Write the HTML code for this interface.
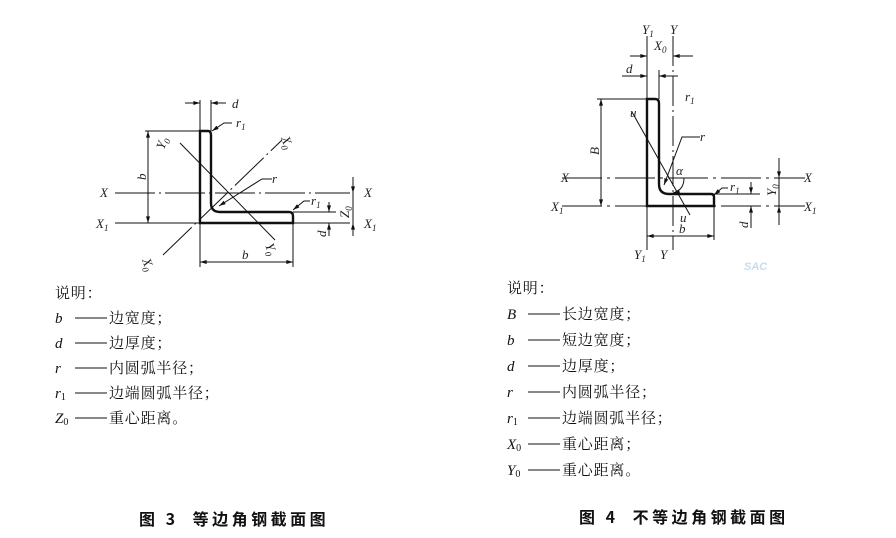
<!DOCTYPE html>
<html><head><meta charset="utf-8"><style>
html,body{margin:0;padding:0;background:#fff;}
svg{display:block}
.v{font-family:"Liberation Serif",serif;font-style:italic;font-size:13px;fill:#222}
.s{font-size:9px}
.t{font-family:"Liberation Serif",serif;font-size:15px;fill:#111}
.z{font-family:"Noto Serif CJK SC","Noto Sans CJK SC",serif;font-size:15px;letter-spacing:0.8px;fill:#111}
.c{font-family:"Noto Sans CJK SC",sans-serif;font-size:16px;font-weight:bold;fill:#111;letter-spacing:3.5px}
</style></head><body>
<svg width="896" height="538" viewBox="0 0 896 538" xmlns="http://www.w3.org/2000/svg">
<defs>
<marker id="a" viewBox="0 0 10 6" refX="10" refY="3" markerWidth="8" markerHeight="4" orient="auto-start-reverse"><path d="M0,0L10,3L0,6z" fill="#111"/></marker>
</defs>
<g stroke="#111" stroke-width="1" fill="none">
<path d="M200,223 V131 H208 Q211,131 211,135 V203 Q211,212 220,212 H289 Q293,212 293,216 V223 Z" stroke-width="2.4"/>
<line x1="115" y1="193" x2="350" y2="193" stroke-dasharray="40,4,2,4"/>
<line x1="115" y1="223" x2="350" y2="223"/>
<line x1="163" y1="255" x2="282" y2="140" stroke-dasharray="40,4,2,4"/>
<line x1="180" y1="143" x2="275" y2="240"/>
<line x1="200" y1="100" x2="200" y2="267"/>
<line x1="211" y1="100" x2="211" y2="131"/>
<line x1="185" y1="103" x2="200" y2="103" marker-end="url(#a)"/>
<line x1="226" y1="103" x2="211" y2="103" marker-end="url(#a)"/>
<line x1="145" y1="131" x2="200" y2="131"/>
<line x1="148" y1="177" x2="148" y2="131" marker-end="url(#a)"/>
<line x1="148" y1="177" x2="148" y2="223" marker-end="url(#a)"/>
<line x1="293" y1="223" x2="293" y2="267"/>
<line x1="246" y1="262" x2="200" y2="262" marker-end="url(#a)"/>
<line x1="246" y1="262" x2="293" y2="262" marker-end="url(#a)"/>
<polyline points="232,123 224,123 212,131" marker-end="url(#a)"/>
<polyline points="272,179 262,179 219,206" marker-end="url(#a)"/>
<polyline points="310,201 304,201 293,210" marker-end="url(#a)"/>
<line x1="293" y1="212" x2="336" y2="212"/>
<line x1="329" y1="202" x2="329" y2="212" marker-end="url(#a)"/>
<line x1="329" y1="236" x2="329" y2="223" marker-end="url(#a)"/>
<line x1="353" y1="177" x2="353" y2="193" marker-end="url(#a)"/>
<line x1="353" y1="236" x2="353" y2="223" marker-end="url(#a)"/>
<line x1="353" y1="193" x2="353" y2="223"/>
<path d="M647,206 V99 H655 Q659,99 659,103 V184 Q659,194 669,194 H711 Q714,194 714,197 V206 Z" stroke-width="2.4"/>
<line x1="647" y1="36" x2="647" y2="250"/>
<line x1="673" y1="36" x2="673" y2="250" stroke-dasharray="30,4,2,4"/>
<line x1="562" y1="178" x2="805" y2="178" stroke-dasharray="40,5,3,5"/>
<line x1="562" y1="206" x2="805" y2="206" stroke-dasharray="40,5,3,5"/>
<line x1="630" y1="56" x2="647" y2="56" marker-end="url(#a)"/>
<line x1="693" y1="56" x2="673" y2="56" marker-end="url(#a)"/>
<line x1="622" y1="76" x2="647" y2="76" marker-end="url(#a)"/>
<line x1="678" y1="76" x2="659" y2="76" marker-end="url(#a)"/>
<line x1="659" y1="70" x2="659" y2="99"/>
<line x1="597" y1="99" x2="647" y2="99"/>
<line x1="601" y1="150" x2="601" y2="99" marker-end="url(#a)"/>
<line x1="601" y1="150" x2="601" y2="206" marker-end="url(#a)"/>
<line x1="632" y1="112" x2="690" y2="215"/>
<polyline points="700,137 682,137 664,185" marker-end="url(#a)"/>
<path d="M684,178 Q684,190 673,193" marker-end="url(#a)"/>
<polyline points="728,188 722,188 714,195" marker-end="url(#a)"/>
<line x1="714" y1="194" x2="760" y2="194"/>
<line x1="751" y1="182" x2="751" y2="194" marker-end="url(#a)"/>
<line x1="751" y1="228" x2="751" y2="206" marker-end="url(#a)"/>
<line x1="779" y1="158" x2="779" y2="178" marker-end="url(#a)"/>
<line x1="779" y1="225" x2="779" y2="206" marker-end="url(#a)"/>
<line x1="779" y1="178" x2="779" y2="206"/>
<line x1="714" y1="206" x2="714" y2="240"/>
<line x1="680" y1="236" x2="647" y2="236" marker-end="url(#a)"/>
<line x1="680" y1="236" x2="714" y2="236" marker-end="url(#a)"/>
<!-- legend dashes -->
<g stroke-width="1.1">
<line x1="75" y1="318" x2="107" y2="318"/><line x1="75" y1="343" x2="107" y2="343"/>
<line x1="75" y1="368" x2="107" y2="368"/><line x1="75" y1="393" x2="107" y2="393"/>
<line x1="75" y1="418" x2="107" y2="418"/>
<line x1="528" y1="314" x2="560" y2="314"/><line x1="528" y1="340" x2="560" y2="340"/>
<line x1="528" y1="366" x2="560" y2="366"/><line x1="528" y1="392" x2="560" y2="392"/>
<line x1="528" y1="418" x2="560" y2="418"/><line x1="528" y1="444" x2="560" y2="444"/>
<line x1="528" y1="470" x2="560" y2="470"/>
</g>
</g>
<text class="v" x="232" y="108">d</text>
<text class="v" x="236" y="127">r<tspan class="s" dy="3">1</tspan></text>
<text class="v" x="272" y="183">r</text>
<text class="v" x="311" y="205">r<tspan class="s" dy="3">1</tspan></text>
<text class="v" x="100" y="197">X</text>
<text class="v" x="364" y="197">X</text>
<text class="v" x="96" y="228">X<tspan class="s" dy="3">1</tspan></text>
<text class="v" x="364" y="228">X<tspan class="s" dy="3">1</tspan></text>
<text class="v" transform="translate(146,180) rotate(-90)">b</text>
<text class="v" x="242" y="259">b</text>
<text class="v" transform="translate(164,150) rotate(-70)">Y<tspan class="s" dy="3">0</tspan></text>
<text class="v" transform="translate(281,138) rotate(70)">X<tspan class="s" dy="3">0</tspan></text>
<text class="v" transform="translate(142,260) rotate(70)">X<tspan class="s" dy="3">0</tspan></text>
<text class="v" transform="translate(265,245) rotate(70)">Y<tspan class="s" dy="3">0</tspan></text>
<text class="v" transform="translate(349,218) rotate(-90)">Z<tspan class="s" dy="3">0</tspan></text>
<text class="v" transform="translate(326,237) rotate(-90)">d</text>
<text class="v" x="642" y="34">Y<tspan class="s" dy="3">1</tspan></text>
<text class="v" x="670" y="34">Y</text>
<text class="v" x="654" y="50">X<tspan class="s" dy="3">0</tspan></text>
<text class="v" x="626" y="73">d</text>
<text class="v" x="685" y="101">r<tspan class="s" dy="3">1</tspan></text>
<text class="v" x="630" y="117">u</text>
<text class="v" x="700" y="141">r</text>
<text class="v" x="676" y="175">α</text>
<text class="v" x="730" y="191">r<tspan class="s" dy="3">1</tspan></text>
<text class="v" x="680" y="222">u</text>
<text class="v" x="679" y="233">b</text>
<text class="v" x="561" y="182">X</text>
<text class="v" x="804" y="182">X</text>
<text class="v" x="551" y="211">X<tspan class="s" dy="3">1</tspan></text>
<text class="v" x="804" y="211">X<tspan class="s" dy="3">1</tspan></text>
<text class="v" transform="translate(599,155) rotate(-90)">B</text>
<text class="v" transform="translate(748,228) rotate(-90)">d</text>
<text class="v" transform="translate(776,196) rotate(-90)">Y<tspan class="s" dy="3">0</tspan></text>
<text class="v" x="634" y="259">Y<tspan class="s" dy="3">1</tspan></text>
<text class="v" x="660" y="259">Y</text>
<text x="744" y="270" font-family="Liberation Sans,sans-serif" font-style="italic" font-weight="bold" font-size="11" fill="#c8dcf0">SAC</text>
<g>
<text class="z" x="55" y="298">说明：</text>
<text class="t" x="55" y="323" font-style="italic">b</text><text class="z" x="109" y="323">边宽度；</text>
<text class="t" x="55" y="348" font-style="italic">d</text><text class="z" x="109" y="348">边厚度；</text>
<text class="t" x="55" y="373" font-style="italic">r</text><text class="z" x="109" y="373">内圆弧半径；</text>
<text class="t" x="55" y="398"><tspan font-style="italic">r</tspan><tspan font-size="10" dy="2">1</tspan></text><text class="z" x="109" y="398">边端圆弧半径；</text>
<text class="t" x="55" y="423"><tspan font-style="italic">Z</tspan><tspan font-size="10" dy="2">0</tspan></text><text class="z" x="109" y="423">重心距离。</text>
</g>
<g>
<text class="z" x="507" y="293">说明：</text>
<text class="t" x="507" y="319" font-style="italic">B</text><text class="z" x="562" y="319">长边宽度；</text>
<text class="t" x="507" y="345" font-style="italic">b</text><text class="z" x="562" y="345">短边宽度；</text>
<text class="t" x="507" y="371" font-style="italic">d</text><text class="z" x="562" y="371">边厚度；</text>
<text class="t" x="507" y="397" font-style="italic">r</text><text class="z" x="562" y="397">内圆弧半径；</text>
<text class="t" x="507" y="423"><tspan font-style="italic">r</tspan><tspan font-size="10" dy="2">1</tspan></text><text class="z" x="562" y="423">边端圆弧半径；</text>
<text class="t" x="507" y="449"><tspan font-style="italic">X</tspan><tspan font-size="10" dy="2">0</tspan></text><text class="z" x="562" y="449">重心距离；</text>
<text class="t" x="507" y="475"><tspan font-style="italic">Y</tspan><tspan font-size="10" dy="2">0</tspan></text><text class="z" x="562" y="475">重心距离。</text>
</g>
<text class="c" x="139" y="525">图 3<tspan dx="14">等边角钢截面图</tspan></text>
<text class="c" x="579" y="523">图 4<tspan dx="14">不等边角钢截面图</tspan></text>
</svg>
</body></html>
